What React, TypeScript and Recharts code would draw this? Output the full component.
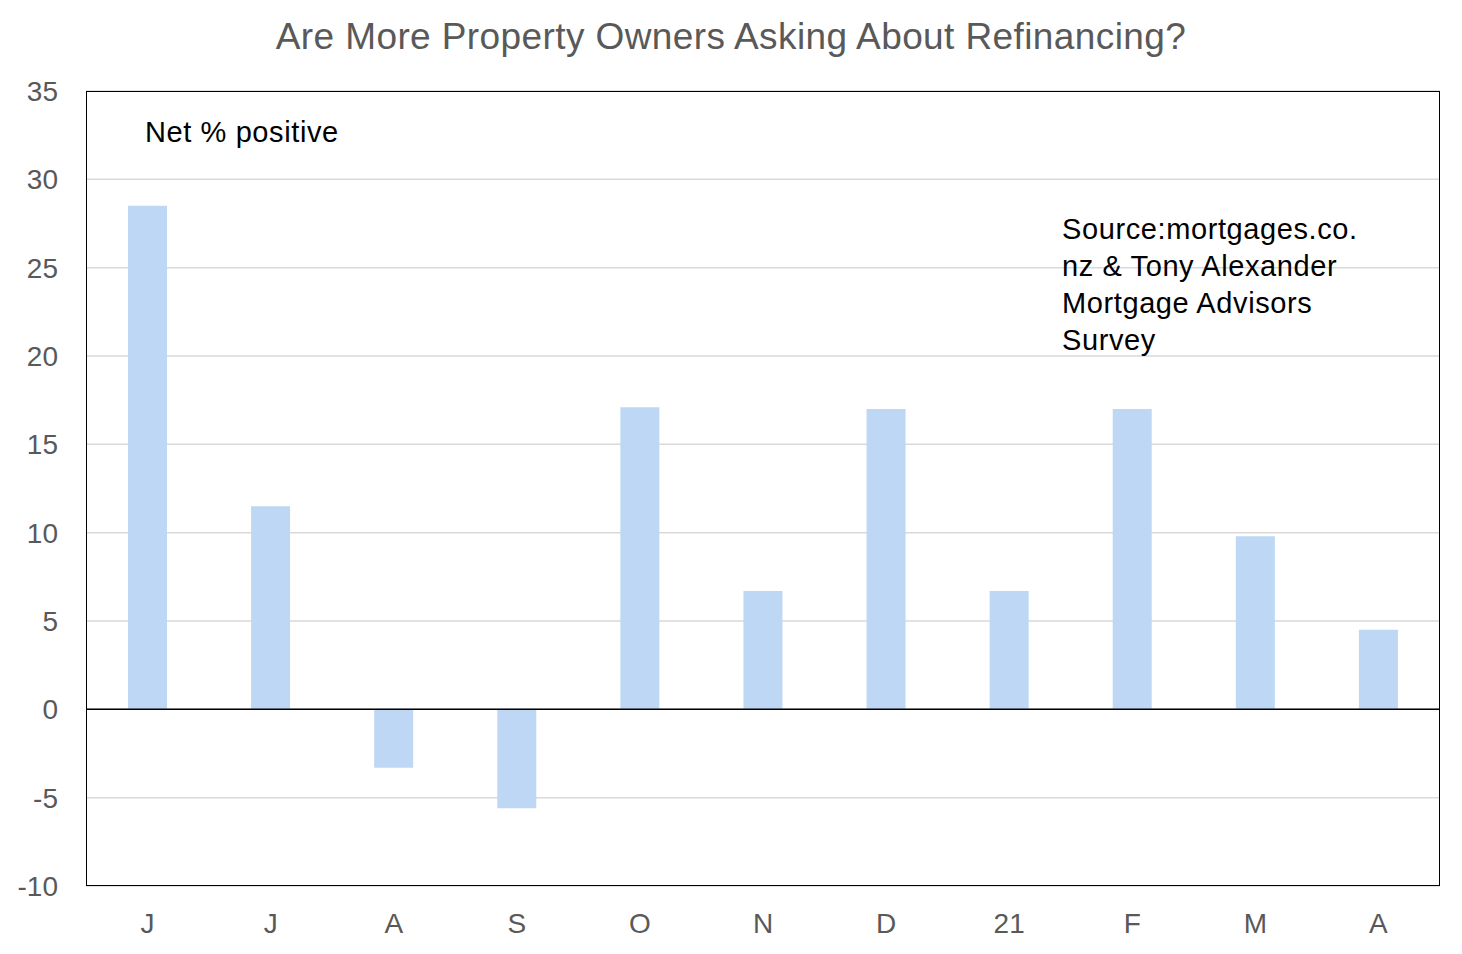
import React from "react";
import { BarChart, Bar, XAxis, YAxis, CartesianGrid, ReferenceLine } from "recharts";

const months = ["J", "J", "A", "S", "O", "N", "D", "21", "F", "M", "A"];
const netPositive = [28.5, 11.5, -3.3, -5.6, 17.1, 6.7, 17.0, 6.7, 17.0, 9.8, 4.5];
const yTicks = [-10, -5, 0, 5, 10, 15, 20, 25, 30, 35];

const data = months.map((m, i) => ({ key: i, month: m, value: netPositive[i] }));

const font = "'Liberation Sans', Arial, sans-serif";

export default function App() {
  return (
    <div style={{ position: "absolute", left: 0, top: 0, width: 1462, height: 954, background: "#fff", fontFamily: font }}>
      <div style={{ position: "absolute", top: 16, left: 0, width: 1462, textAlign: "center", fontSize: 37, letterSpacing: 0.4, color: "#595959" }}>
        Are More Property Owners Asking About Refinancing?
      </div>
      <BarChart width={1462} height={954} data={data} margin={{ top: 91, right: 22, left: 16, bottom: 0 }}>
        <CartesianGrid vertical={false} stroke="#d9d9d9" strokeWidth={1.5} />
        <XAxis
          dataKey="key"
          tickFormatter={(i) => months[i]}
          height={68}
          axisLine={false}
          tickLine={false}
          tick={{ fontSize: 28, fill: "#595959", fontFamily: font }}
          tickMargin={21}
        />
        <YAxis
          domain={[-10, 35]}
          ticks={yTicks}
          width={70}
          axisLine={false}
          tickLine={false}
          tick={{ fontSize: 28, fill: "#595959", fontFamily: font }}
          tickMargin={22}
        />
        <ReferenceLine y={0} stroke="#000" strokeWidth={1.5} />
        <Bar dataKey="value" fill="#bdd7f5" barSize={39} isAnimationActive={false} />
      </BarChart>
      <div style={{ position: "absolute", left: 86, top: 91, width: 1354, height: 795, border: "1.5px solid #000", boxSizing: "border-box", pointerEvents: "none" }} />
      <div style={{ position: "absolute", left: 145, top: 116, fontSize: 29, letterSpacing: 0.6, color: "#000" }}>Net % positive</div>
      <div style={{ position: "absolute", left: 1062, top: 211, fontSize: 29, letterSpacing: 0.6, lineHeight: "37px", color: "#000", width: 340 }}>
        Source:mortgages.co.<br />nz &amp; Tony Alexander<br />Mortgage Advisors<br />Survey
      </div>
    </div>
  );
}
